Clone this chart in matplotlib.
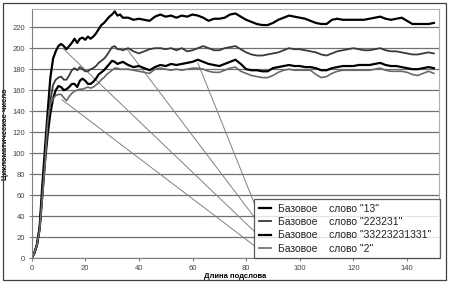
import matplotlib
matplotlib.use("Agg")
import matplotlib.pyplot as plt
from matplotlib.patches import Rectangle

plt.rcParams['font.family'] = ['Liberation Sans', 'DejaVu Sans']

# Длина подслова
x = [0, 1, 2, 3, 4, 5, 6, 7, 8, 9, 10, 11, 12, 13, 14, 15, 16, 17, 18, 19,
     20, 21, 22, 23, 24, 25, 26, 27, 28, 29, 30, 31, 32, 33, 34, 36, 38, 40,
     42, 44, 46, 48, 50, 52, 54, 56, 58, 60, 62, 64, 66, 68, 70, 72, 74, 76,
     78, 80, 82, 84, 86, 88, 90, 92, 94, 96, 98, 100, 102, 104, 106, 108, 110,
     112, 114, 116, 118, 120, 122, 124, 126, 128, 130, 132, 134, 136, 138, 140,
     142, 144, 146, 148, 150]

s13 = [0, 5, 13, 30, 70, 105, 140, 172, 190, 197, 202, 204, 202, 199, 202, 205,
       209, 205, 209, 210, 208, 211, 209, 211, 214, 218, 222, 224, 227, 230, 232,
       235, 231, 232, 229, 229, 227, 228, 227, 226, 230, 232, 230, 231, 229, 231,
       230, 232, 231, 229, 226, 228, 228, 229, 232, 233, 230, 227, 225, 223, 222,
       222, 224, 227, 229, 231, 230, 229, 228, 226, 224, 223, 223, 227, 228, 227,
       227, 227, 227, 227, 228, 229, 230, 228, 227, 228, 229, 226, 223, 223, 223,
       223, 224]

s223231 = [0, 5, 13, 28, 62, 95, 125, 150, 165, 170, 172, 173, 170, 170, 174,
           179, 181, 179, 182, 180, 178, 178, 180, 181, 183, 186, 188, 190, 193,
           197, 201, 202, 199, 199, 198, 200, 197, 195, 197, 199, 200, 200, 199,
           200, 198, 200, 197, 198, 200, 202, 200, 198, 198, 200, 201, 202, 199,
           196, 194, 193, 193, 194, 195, 196, 198, 200, 199, 199, 198, 197, 196,
           194, 193, 195, 197, 198, 199, 200, 199, 198, 198, 199, 200, 198, 197,
           197, 196, 195, 194, 194, 195, 196, 195]

s33223231331 = [0, 5, 13, 28, 60, 92, 118, 138, 152, 160, 164, 163, 160, 161,
                163, 166, 166, 163, 169, 171, 169, 166, 166, 168, 171, 175, 177,
                179, 182, 185, 188, 187, 185, 186, 187, 184, 182, 183, 181, 179,
                182, 184, 183, 185, 184, 185, 186, 187, 189, 187, 185, 184, 183,
                185, 187, 189, 185, 180, 179, 179, 178, 178, 181, 182, 183, 184,
                183, 183, 182, 182, 181, 179, 179, 181, 182, 183, 183, 183, 184,
                184, 184, 185, 186, 184, 183, 183, 182, 181, 180, 180, 181, 182,
                181]

s2 = [0, 5, 13, 27, 58, 90, 130, 147, 152, 155, 156, 156, 153, 150, 154, 157,
      159, 160, 161, 161, 162, 163, 162, 163, 165, 167, 170, 172, 175, 177, 179,
      181, 181, 180, 180, 180, 179, 178, 177, 176, 180, 181, 180, 179, 180, 179,
      180, 181, 181, 180, 178, 177, 177, 179, 181, 182, 178, 176, 174, 173, 172,
      172, 174, 177, 179, 180, 179, 179, 179, 179, 175, 172, 173, 176, 178, 179,
      179, 179, 179, 179, 179, 180, 181, 179, 178, 178, 178, 177, 175, 174, 176,
      178, 176]

labels = ['Базовое    слово "13"', 'Базовое    слово "223231"',
          'Базовое    слово "33223231331"', 'Базовое    слово "2"']

fig = plt.figure(figsize=(4.58, 2.9), dpi=100)
ax = fig.add_axes([0.069, 0.109, 0.890, 0.859])

# рамка вокруг всей диаграммы
fig.patches.append(Rectangle((0.007, 0.034), 0.967, 0.956, transform=fig.transFigure,
                             fill=False, edgecolor='#404040', linewidth=0.9))

ax.plot(x, s13, color='black', linewidth=1.6, label=labels[0])
ax.plot(x, s223231, color='#3a3a3a', linewidth=1.3, label=labels[1])
ax.plot(x, s33223231331, color='black', linewidth=1.6, label=labels[2])
ax.plot(x, s2, color='#6a6a6a', linewidth=1.2, label=labels[3])

ax.set_xlim(0, 152)
ax.set_ylim(0, 237)
ax.set_yticks(range(0, 221, 20))
ax.set_xticks(range(0, 141, 20))
ax.yaxis.grid(True, color='#707070', linewidth=0.9)
ax.set_axisbelow(True)
for side in ['top', 'right']:
    ax.spines[side].set_color('#b0b0b0')
for side in ['left', 'bottom']:
    ax.spines[side].set_color('#808080')
ax.tick_params(labelsize=5.5, labelcolor='#444444', length=2.5, color='#808080', pad=2)

ax.set_xlabel('Длина подслова', fontsize=5.5, fontweight='bold', labelpad=1)
ax.set_ylabel('Цикломатическое число', fontsize=5.5, fontweight='bold', labelpad=3)

# выноски от кривых к легенде
leaders = [((62, 186), 0.214), ((35.6, 199), 0.162), ((12, 199), 0.106), ((11.3, 151), 0.049)]
for (px, py), fy in leaders:
    ax.annotate('', xy=(px, py), xycoords='data', xytext=(0.548, fy), textcoords='axes fraction',
                arrowprops=dict(arrowstyle='-', color='#808080', linewidth=0.7,
                                shrinkA=0, shrinkB=0), zorder=1)

leg = ax.legend(loc='lower left', bbox_to_anchor=(0.546, 0.0, 0.456, 0.246), mode='expand',
                fontsize=7.5, frameon=True, fancybox=False, handlelength=1.2,
                handletextpad=0.6, borderpad=0.45, labelspacing=0.32, borderaxespad=0)
leg.get_frame().set_edgecolor('#333333')
leg.get_frame().set_linewidth(0.9)
for t in leg.get_texts():
    t.set_color('#222222')

fig.savefig('out.png', dpi=100)
